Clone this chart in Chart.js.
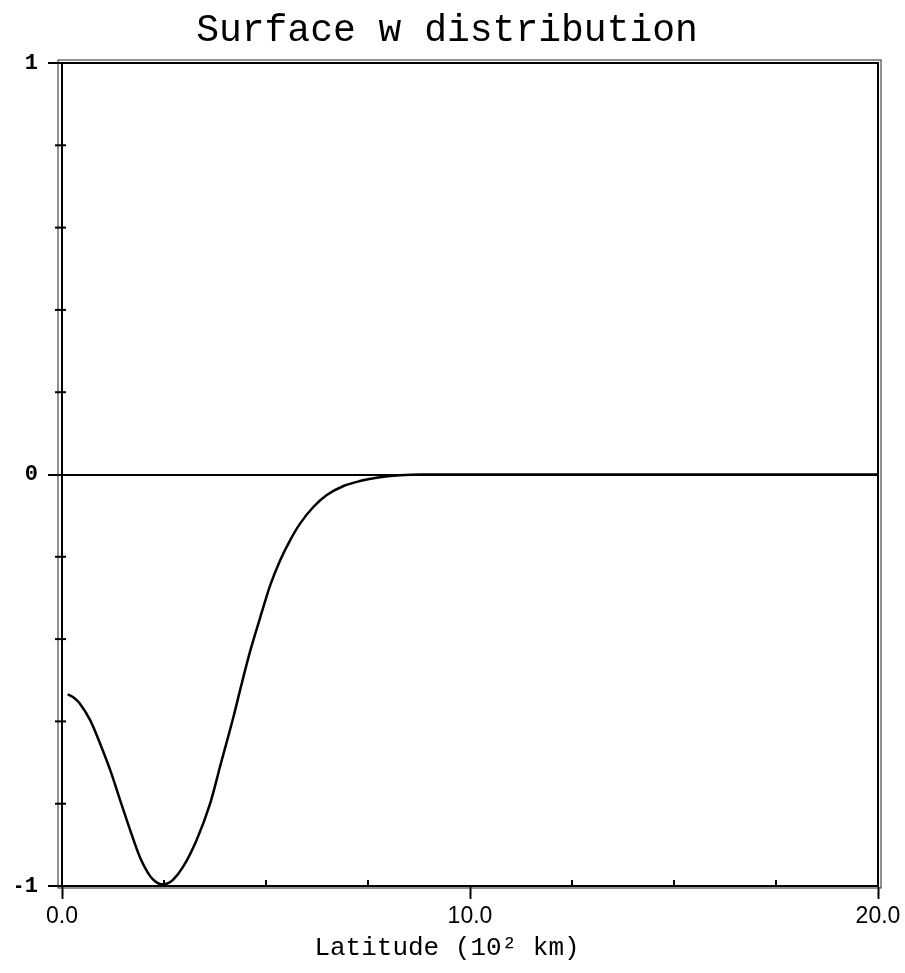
<!DOCTYPE html>
<html>
<head>
<meta charset="utf-8">
<script src="https://cdn.jsdelivr.net/npm/chart.js@4.4.1/dist/chart.umd.min.js"></script>
<style>
html,body{margin:0;padding:0;background:#fff;}
#wrap{width:905px;height:973px;}
</style>
</head>
<body>
<div id="wrap"><canvas id="c" width="905" height="973"></canvas></div>
<script>
// ---- data ----
const titleText = "Surface w distribution";
const xAxisLabel = "Latitude (10\u00B2 km)";
const latitude = [0.14, 0.30, 0.44, 0.69, 0.93, 1.18, 1.42, 1.67, 1.91, 2.16, 2.30, 2.44, 2.58, 2.72, 2.97, 3.30, 3.63, 3.90, 4.20, 4.40, 4.61, 4.85, 5.10, 5.34, 5.59, 5.83, 6.16, 6.49, 6.90, 7.30, 7.71, 8.28, 8.80, 10.0, 12.0, 14.0, 16.0, 18.0, 20.0];
const surfaceW = [-0.534, -0.543, -0.557, -0.597, -0.653, -0.718, -0.790, -0.864, -0.930, -0.976, -0.990, -0.996, -0.994, -0.985, -0.953, -0.888, -0.800, -0.700, -0.590, -0.510, -0.430, -0.350, -0.270, -0.210, -0.160, -0.120, -0.079, -0.050, -0.028, -0.016, -0.008, -0.002, 0.0, 0.0, 0.0, 0.0, 0.0, 0.0, 0.0];
const xMajorValues = [0, 10, 20];
const xTickLabels = ["0.0", "10.0", "20.0"];
const yMajorValues = [-1, 0, 1];
const yTickLabels = ["-1", "0", "1"];

const near = (a, b) => Math.abs(a - b) < 1e-6;
const majorIndex = (arr, v) => arr.findIndex(m => near(m, v));

const framePlugin = {
  id: 'frame',
  afterDatasetsDraw(chart) {
    const {ctx, chartArea: a, scales} = chart;
    ctx.save();
    ctx.strokeStyle = '#000';
    ctx.lineWidth = 2;
    ctx.strokeRect(a.left, a.top, a.right - a.left, a.bottom - a.top);
    ctx.lineWidth = 1;
    ctx.strokeStyle = '#222';
    ctx.strokeRect(a.left - 4, a.top - 3, a.right - a.left + 7, a.bottom - a.top + 5);
    // minor ticks
    ctx.strokeStyle = '#000';
    ctx.lineWidth = 2;
    const ys = scales.y;
    ys.ticks.forEach(t => {
      if (majorIndex(yMajorValues, t.value) >= 0) return;
      const py = ys.getPixelForValue(t.value);
      ctx.beginPath();
      ctx.moveTo(a.left - 7, py);
      ctx.lineTo(a.left + 4, py);
      ctx.stroke();
    });
    const xs = scales.x;
    xs.ticks.forEach(t => {
      if (majorIndex(xMajorValues, t.value) >= 0) return;
      const px = xs.getPixelForValue(t.value);
      ctx.beginPath();
      ctx.moveTo(px, a.bottom);
      ctx.lineTo(px, a.bottom - 6);
      ctx.stroke();
    });
    ctx.restore();
  }
};

new Chart(document.getElementById('c'), {
  type: 'line',
  data: {
    datasets: [{
      data: latitude.map((x, i) => ({x: x, y: surfaceW[i]})),
      borderColor: '#000',
      borderWidth: 2.5,
      pointRadius: 0,
      fill: false,
      cubicInterpolationMode: 'monotone'
    }]
  },
  options: {
    responsive: false,
    animation: false,
    devicePixelRatio: 1,
    layout: {padding: {left: 16, right: 27, top: 0, bottom: 0}},
    plugins: {
      legend: {display: false},
      tooltip: {enabled: false},
      title: {
        display: true,
        text: titleText,
        color: '#000',
        font: {family: "'Liberation Mono', monospace", size: 38, weight: 'normal'},
        padding: {top: 8, bottom: 9.4}
      },
      subtitle: {
        display: true,
        position: 'bottom',
        text: xAxisLabel,
        color: '#000',
        font: {family: "'Liberation Mono', monospace", size: 26, weight: 'normal'},
        padding: {top: 2, bottom: 8.8}
      }
    },
    scales: {
      x: {
        type: 'linear',
        min: 0, max: 20,
        afterFit: s => { s.height = 45; },
        border: {display: true, color: '#000', width: 2},
        grid: {
          drawOnChartArea: false,
          drawTicks: true,
          tickLength: 13,
          tickWidth: 2,
          tickColor: c => majorIndex(xMajorValues, c.tick.value) >= 0 ? '#000' : 'rgba(0,0,0,0)'
        },
        ticks: {
          stepSize: 2.5,
          autoSkip: false,
          maxRotation: 0,
          padding: 4,
          color: '#000',
          font: {family: "'Liberation Sans', sans-serif", size: 23, weight: 'normal'},
          callback: v => { const i = majorIndex(xMajorValues, v); return i >= 0 ? xTickLabels[i] : ''; }
        }
      },
      y: {
        type: 'linear',
        min: -1, max: 1,
        afterFit: s => { s.width = 46; },
        border: {display: true, color: '#000', width: 2},
        grid: {
          drawOnChartArea: true,
          drawTicks: true,
          tickLength: 14,
          tickWidth: 2,
          lineWidth: 2,
          color: c => (c.tick && near(c.tick.value, 0)) ? '#000' : 'rgba(0,0,0,0)',
          tickColor: c => majorIndex(yMajorValues, c.tick.value) >= 0 ? '#000' : 'rgba(0,0,0,0)'
        },
        ticks: {
          stepSize: 0.2,
          autoSkip: false,
          padding: 10,
          color: '#000',
          font: {family: "'Liberation Mono', monospace", size: 22, weight: 'bold'},
          callback: v => { const i = majorIndex(yMajorValues, v); return i >= 0 ? yTickLabels[i] : ''; }
        }
      }
    }
  },
  plugins: [framePlugin]
});
</script>
</body>
</html>
